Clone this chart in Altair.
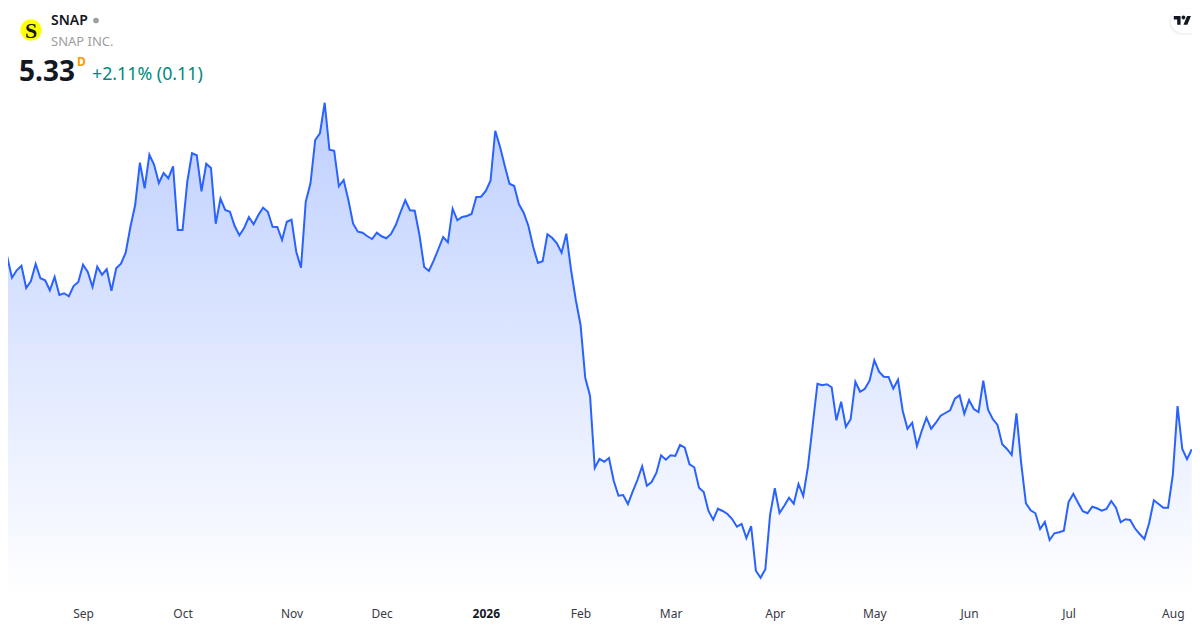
import altair as alt
import pandas as pd

closes = [
7.569,7.448,7.217,7.299,7.349,7.104,7.181,7.368,7.211,7.189,7.079,7.225,7.027,7.046,7.013,7.126,7.170,
7.360,7.280,7.115,7.338,7.250,7.310,7.074,7.321,7.371,7.492,7.778,8.017,8.482,8.201,8.570,8.460,8.259,8.369,8.311,8.443,7.742,
7.742,8.273,8.586,8.564,8.168,8.471,8.424,7.811,8.086,7.962,7.943,7.786,7.684,7.764,7.885,7.805,7.907,7.987,7.943,7.778,7.775,7.632,7.833,
7.855,7.503,7.327,8.053,8.256,8.732,8.806,9.142,8.625,8.614,8.223,8.292,8.072,7.811,7.723,7.712,7.673,7.643,7.712,
7.673,7.651,7.698,7.797,7.937,8.069,7.959,7.954,7.687,7.335,7.291,7.404,7.533,7.665,7.607,7.976,7.849,7.885,7.896,7.918,8.105,8.108,
8.171,8.284,8.834,8.658,8.449,8.251,8.226,8.025,7.932,7.786,7.558,7.379,7.398,7.695,7.657,7.596,7.492,7.701,7.302,6.972,
6.697,6.114,5.919,5.124,5.223,5.193,5.234,4.984,4.819,4.827,4.728,4.863,4.992,5.143,4.929,4.970,5.069,5.264,5.215,
5.264,5.256,5.377,5.347,5.165,5.132,4.907,4.860,4.651,4.555,4.676,4.651,4.618,4.563,4.478,4.508,4.354,4.486,3.994,3.917,4.010,4.607,
4.901,4.629,4.709,4.797,4.731,4.948,4.816,5.138,5.597,6.051,6.034,6.045,6.012,5.649,5.853,5.578,5.660,6.073,5.963,5.996,6.084,
6.309,6.183,6.128,6.125,5.996,6.095,5.751,5.556,5.622,5.366,5.531,5.677,5.556,5.622,5.699,5.729,5.759,5.886,5.924,5.721,
5.872,5.773,5.740,6.084,5.765,5.663,5.597,5.385,5.333,5.267,5.726,5.176,4.736,4.659,4.626,4.453,4.530,4.332,4.406,4.417,4.434,
4.750,4.841,4.742,4.648,4.626,4.698,4.681,4.654,4.673,4.761,4.687,4.527,4.560,4.552,4.461,4.398,4.343,4.516,4.769,4.728,4.687,4.687,
5.047,5.806,5.333,5.222,5.33,
]
month_sessions = [17, 38, 61, 80, 102, 122, 141, 163, 184, 204, 225, 247]
month_labels = ["Sep", "Oct", "Nov", "Dec", "2026", "Feb", "Mar", "Apr", "May", "Jun", "Jul", "Aug"]
symbol = "SNAP"
company = "SNAP INC."
last_price = "5.33"
interval = "D"
change = "+2.11% (0.11)"

df = pd.DataFrame({"session": list(range(len(closes))), "close": closes})
one = pd.DataFrame({"k": [0]})

W, H = 1184, 614
x_scale = alt.Scale(domain=[1.161, 251.05], nice=False, zero=False)
y_scale = alt.Scale(domain=[3.430, 10.184], nice=False, zero=False)

label_map = "{" + ",".join(f"'{s}':'{l}'" for s, l in zip(month_sessions, month_labels)) + "}"
x_axis = alt.Axis(
    values=month_sessions,
    labelExpr=f"{label_map}[datum.value]",
    domain=False, ticks=False, grid=False, title=None,
    labelFont="Noto Sans", labelFontSize=12, labelPadding=0, offset=-14,
    labelColor=alt.expr("datum.value==102?'#131722':'#363a45'"),
    labelFontWeight=alt.expr("datum.value==102?'bold':'normal'"),
    labelOverlap=False, labelBound=False, labelFlush=False,
)

area = alt.Chart(df).mark_area(
    clip=True,
    interpolate="linear",
    color=alt.Gradient(
        gradient="linear", x1=1, x2=1, y1=0, y2=1,
        stops=[
            alt.GradientStop(color="rgba(41,98,255,0.30)", offset=0),
            alt.GradientStop(color="rgba(41,98,255,0.0)", offset=1),
        ],
    ),
).encode(
    x=alt.X("session:Q", scale=x_scale, axis=x_axis),
    y=alt.Y("close:Q", scale=y_scale, axis=None, stack=None),
    y2=alt.value(592),
)
line = alt.Chart(df).mark_line(clip=True, color="#2962ff", strokeWidth=2, interpolate="linear").encode(
    x=alt.X("session:Q", scale=x_scale, axis=x_axis),
    y=alt.Y("close:Q", scale=y_scale, axis=None),
)


def label(text, x, y, **kw):
    base = dict(align="left", baseline="middle", font="Noto Sans")
    base.update(kw)
    return alt.Chart(pd.DataFrame({"t": [text]})).mark_text(**base).encode(
        text="t:N", x=alt.value(x), y=alt.value(y)
    )


def rect(x, x2, y, y2, **kw):
    return alt.Chart(one).mark_rect(**kw).encode(
        x=alt.value(x), x2=alt.value(x2), y=alt.value(y), y2=alt.value(y2)
    )


pill_shadow2 = rect(1160.5, 1200, 0.5, 27.5, fill="#000000", fillOpacity=0.02, cornerRadius=14)
pill_shadow = rect(1161.5, 1200, 1.5, 26.5, fill="#000000", fillOpacity=0.04, cornerRadius=13)
pill = rect(1163, 1200, 1, 25, fill="#ffffff", cornerRadius=12)
tv_path = ("M-.222,.5L-.611,.5L-.611,-.111L-1,-.111L-1,-.5L-.222,-.5Z"
           "M.556,.5L.111,.5L.528,-.5L.972,-.5Z"
           "M-.111,-.333a.222,.222 0 1,0 .444,0a.222,.222 0 1,0 -.444,0Z")
tv = alt.Chart(one).mark_point(shape=tv_path, filled=True, fill="#131722", opacity=1, size=303).encode(
    x=alt.value(1174.5), y=alt.value(12.4)
)
logo = alt.Chart(one).mark_circle(color="#ffff00", opacity=1, size=452).encode(x=alt.value(23), y=alt.value(22))
logo_s = label("S", 23, 22.5, align="center", font="Liberation Serif", fontWeight="bold", fontSize=22, color="#131722")
dot = alt.Chart(one).mark_circle(color="#9e9e9e", opacity=1, size=32).encode(x=alt.value(88), y=alt.value(12.5))

chart = alt.layer(
    area, line, pill_shadow2, pill_shadow, pill, tv, logo, logo_s, dot,
    label(symbol, 43, 13, fontSize=14, fontWeight=600, color="#131722"),
    label(company, 43, 33.5, fontSize=13, color="#9e9e9e"),
    label(last_price, 11, 65, fontSize=28, fontWeight="bold", color="#131722"),
    label(interval, 69, 53.5, fontSize=12, fontWeight="bold", color="#ff9800"),
    label(change, 84, 67, fontSize=17.8, color="#00897b"),
).properties(
    width=W, height=H, padding=0, background="#ffffff",
    autosize=alt.AutoSizeParams(type="none"),
).configure_view(stroke=None)

chart.save("out.html", embed_options={"renderer": "svg", "actions": False})
